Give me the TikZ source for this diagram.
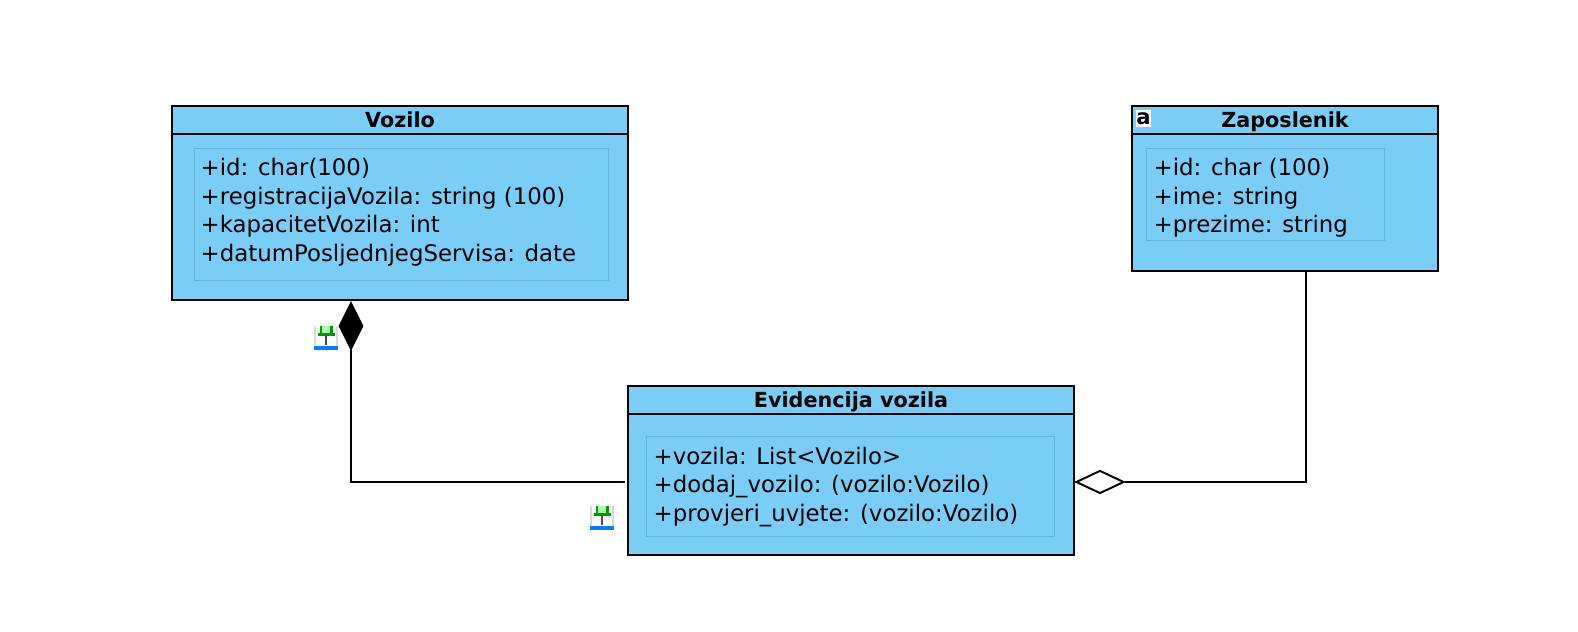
\documentclass[tikz,border=0pt]{standalone}
\usepackage{fontspec}
\setmainfont{DejaVu Sans}
\usetikzlibrary{shapes.geometric}
\definecolor{classblue}{HTML}{7ACEF6}
\definecolor{memberline}{HTML}{62B3DA}
\tikzset{
    classhead/.style={draw=black, fill=classblue, line width=0.55pt, inner sep=0pt, text height=4.3pt, text depth=0pt, font=\fontsize{5.9}{8}\selectfont\bfseries},
    classbody/.style={draw=black, fill=classblue, line width=0.55pt, inner sep=0pt},
    memberbox/.style={draw=memberline, line width=0.25pt, inner sep=0pt},
    membertext/.style={anchor=west, inner sep=0pt, align=left, font=\fontsize{6.5}{8.1}\selectfont},
    compdiamond/.style={diamond, draw=black, fill=black, inner sep=0pt, minimum width=0.24cm, minimum height=0.47cm},
    aggdiamond/.style={diamond, draw=black, fill=white, line width=0.55pt, inner sep=0pt, minimum width=0.48cm, minimum height=0.23cm},
    pinicon/.pic={
        \fill [gray!30] (-0.12, -0.12) rectangle (0.12, 0.12);
        \fill [white] (-0.1, -0.09) rectangle (0.1, 0.12);
        \fill [green!35!white] (-0.05, 0.03) rectangle (0.05, 0.12);
        \fill [green!60!black] (-0.085, 0.015) rectangle (0.085, 0.05);
        \fill [green!60!black] (-0.065, 0.03) rectangle (-0.04, 0.12);
        \fill [green!60!black] (0.04, 0.03) rectangle (0.065, 0.12);
        \draw [black!70, line width=0.8pt] (0, 0.015) -- (0, -0.07);
        \fill [blue!50!cyan] (-0.12, -0.12) rectangle (0.12, -0.085);
    }
}
\begin{document}
\begin{tikzpicture}
    \useasboundingbox (0, 0) rectangle (15.78, 6.32);
    % Vozilo
    \node [classbody, minimum width=4.566cm, minimum height=1.66cm] (vozilobody) at (4.0, 4.15) {};
    \node [classhead, minimum width=4.566cm, minimum height=0.283cm] (vozilohead) at (4.0, 5.12) {Vozilo};
    \node [memberbox, minimum width=4.14cm, minimum height=1.32cm] (vozilobox) at (4.01, 4.18) {};
    \node [membertext] (vozilotext) at (2.0, 4.2) {+id: char(100)\\+registracijaVozila: string (100)\\+kapacitetVozila: int\\+datumPosljednjegServisa: date};
    % Zaposlenik
    \node [classbody, minimum width=3.06cm, minimum height=1.367cm] (zaposlenikbody) at (12.85, 4.297) {};
    \node [classhead, minimum width=3.06cm, minimum height=0.283cm] (zaposlenikhead) at (12.85, 5.12) {Zaposlenik};
    \node [memberbox, minimum width=2.373cm, minimum height=0.92cm] (zaposlenikbox) at (12.654, 4.38) {};
    \node [membertext] (zaposleniktext) at (11.53, 4.34) {+id: char (100)\\+ime: string\\+prezime: string};
    \node [fill=white, inner sep=0pt, minimum width=0.15cm, minimum height=0.17cm, font=\fontsize{6}{6}\selectfont\bfseries] (zaposlenikicon) at (11.435, 5.135) {a};
    % Evidencija vozila
    \node [classbody, minimum width=4.457cm, minimum height=1.41cm] (evidencijabody) at (8.51, 1.475) {};
    \node [classhead, minimum width=4.457cm, minimum height=0.283cm] (evidencijahead) at (8.51, 2.32) {Evidencija vozila};
    \node [memberbox, minimum width=4.08cm, minimum height=1.007cm] (evidencijabox) at (8.507, 1.457) {};
    \node [membertext] (evidencijatext) at (6.53, 1.45) {+vozila: List<Vozilo>\\+dodaj\_vozilo: (vozilo:Vozilo)\\+provjeri\_uvjete: (vozilo:Vozilo)};
    % connectors
    \node [compdiamond] (vozilodiamond) at (3.51, 3.06) {};
    \node [aggdiamond] (evidencijadiamond) at (11.0, 1.5) {};
    \coordinate (zaposlenikend) at (13.06, 3.6);
    \draw [line width=0.55pt, shorten >=0.02cm] (vozilodiamond.south) |- (evidencijabody.west |- evidencijadiamond);
    \draw [line width=0.55pt] (evidencijadiamond.east) -| (zaposlenikend);
    % icons
    \pic at (3.26, 2.94) {pinicon};
    \pic at (6.02, 1.14) {pinicon};
\end{tikzpicture}
\end{document}
